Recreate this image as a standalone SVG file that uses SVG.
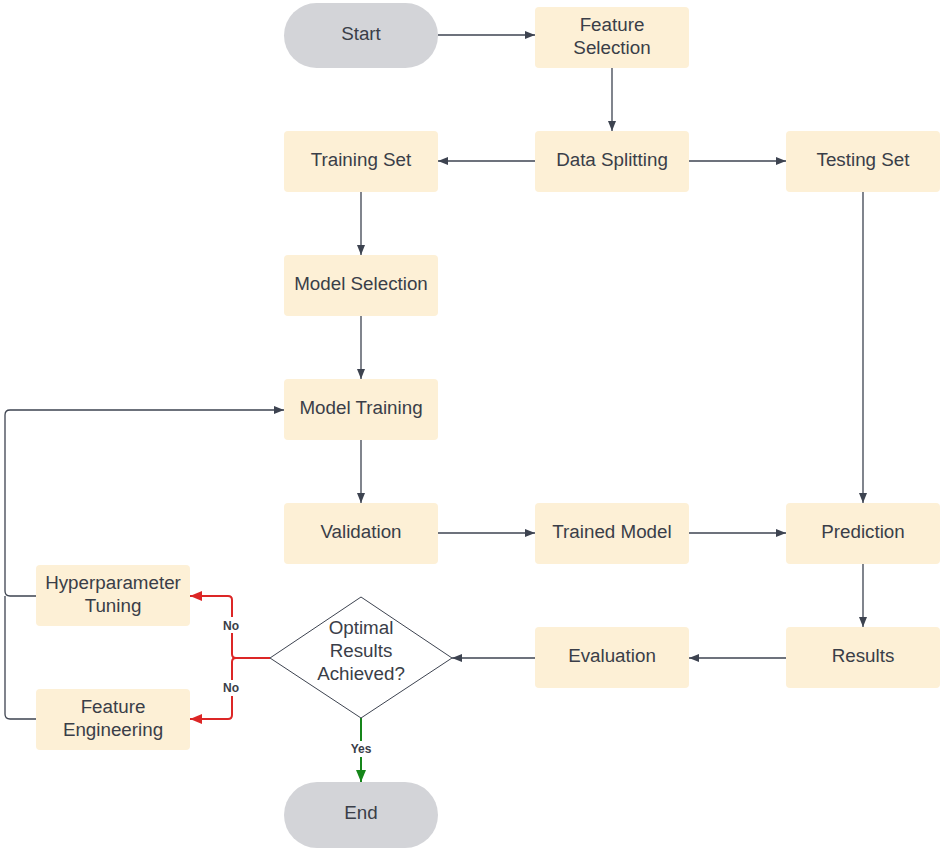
<svg xmlns="http://www.w3.org/2000/svg" width="943" height="850" viewBox="0 0 943 850">
<defs>
<style>
.box{fill:#fdf0d6;}
.pill{fill:#d3d4d8;}
.t{font-family:"Liberation Sans",Arial,sans-serif;font-size:18.8px;fill:#3a3e48;text-anchor:middle;}
.lbl{font-family:"Liberation Sans",Arial,sans-serif;font-size:12px;font-weight:bold;fill:#3a3e48;text-anchor:middle;}
.c{fill:none;stroke:#3d4350;stroke-width:1.3;}
.r{fill:none;stroke:#dc2626;stroke-width:2;}
.g{fill:none;stroke:#16861a;stroke-width:2;}
</style>
<marker id="ah" markerWidth="10" markerHeight="8" refX="10" refY="4" orient="auto" markerUnits="userSpaceOnUse"><path d="M0,0 L10,4 L0,8 z" fill="#3d4350"/></marker>
<marker id="ar" markerWidth="12" markerHeight="10" refX="12" refY="5" orient="auto" markerUnits="userSpaceOnUse"><path d="M0,0 L12,5 L0,10 z" fill="#dc2626"/></marker>
<marker id="ag" markerWidth="10" markerHeight="12" refX="12" refY="5" orient="auto" markerUnits="userSpaceOnUse"><path d="M0,0 L12,5 L0,10 z" fill="#16861a"/></marker>
</defs>
<rect width="943" height="850" fill="#ffffff"/>
<g id="connectors">
<path class="c" d="M438,35 H535" marker-end="url(#ah)"/>
<path class="c" d="M612,68 V131" marker-end="url(#ah)"/>
<path class="c" d="M535,161 H438" marker-end="url(#ah)"/>
<path class="c" d="M689,161 H786" marker-end="url(#ah)"/>
<path class="c" d="M361,192 V255" marker-end="url(#ah)"/>
<path class="c" d="M361,316 V379" marker-end="url(#ah)"/>
<path class="c" d="M361,440 V503" marker-end="url(#ah)"/>
<path class="c" d="M438,533 H535" marker-end="url(#ah)"/>
<path class="c" d="M689,533 H786" marker-end="url(#ah)"/>
<path class="c" d="M863,192 V503" marker-end="url(#ah)"/>
<path class="c" d="M863,564 V627" marker-end="url(#ah)"/>
<path class="c" d="M786,658 H689" marker-end="url(#ah)"/>
<path class="c" d="M535,658 H452" marker-end="url(#ah)"/>
<path class="c" d="M36,596 H10 Q5,596 5,591 V415 Q5,410 10,410 H284" marker-end="url(#ah)"/>
<path class="c" d="M36,719 H10 Q5,719 5,714 V596"/>
<path class="r" d="M270,658 H236 Q232,658 232,654 V600 Q232,596 228,596 H190" marker-end="url(#ar)"/>
<path class="r" d="M236,658 Q232,658 232,662 V715 Q232,719 228,719 H190" marker-end="url(#ar)"/>
<path class="g" d="M361,718 V782" marker-end="url(#ag)"/>
<rect x="222" y="617" width="20" height="16" fill="#ffffff"/>
<text class="lbl" x="231" y="630">No</text>
<rect x="222" y="680" width="20" height="16" fill="#ffffff"/>
<text class="lbl" x="231" y="692">No</text>
<rect x="346" y="741" width="30" height="16" fill="#ffffff"/>
<text class="lbl" x="361" y="753">Yes</text>
</g>
<g id="start"><rect class="pill" x="284" y="3" width="154" height="65" rx="32.5"/><text class="t" x="361" y="40">Start</text></g>
<g id="feature-selection"><rect class="box" x="535" y="7" width="154" height="61" rx="4"/><text class="t" x="612" y="31">Feature</text><text class="t" x="612" y="54">Selection</text></g>
<g id="training-set"><rect class="box" x="284" y="131" width="154" height="61" rx="4"/><text class="t" x="361" y="166">Training Set</text></g>
<g id="data-splitting"><rect class="box" x="535" y="131" width="154" height="61" rx="4"/><text class="t" x="612" y="166">Data Splitting</text></g>
<g id="testing-set"><rect class="box" x="786" y="131" width="154" height="61" rx="4"/><text class="t" x="863" y="166">Testing Set</text></g>
<g id="model-selection"><rect class="box" x="284" y="255" width="154" height="61" rx="4"/><text class="t" x="361" y="290">Model Selection</text></g>
<g id="model-training"><rect class="box" x="284" y="379" width="154" height="61" rx="4"/><text class="t" x="361" y="414">Model Training</text></g>
<g id="validation"><rect class="box" x="284" y="503" width="154" height="61" rx="4"/><text class="t" x="361" y="538">Validation</text></g>
<g id="trained-model"><rect class="box" x="535" y="503" width="154" height="61" rx="4"/><text class="t" x="612" y="538">Trained Model</text></g>
<g id="prediction"><rect class="box" x="786" y="503" width="154" height="61" rx="4"/><text class="t" x="863" y="538">Prediction</text></g>
<g id="results"><rect class="box" x="786" y="627" width="154" height="61" rx="4"/><text class="t" x="863" y="662">Results</text></g>
<g id="evaluation"><rect class="box" x="535" y="627" width="154" height="61" rx="4"/><text class="t" x="612" y="662">Evaluation</text></g>
<g id="decision"><path d="M361,597 L452,658 L361,718 L270,658 Z" fill="#ffffff" stroke="#3d4350" stroke-width="1"/><text class="t" x="361" y="634">Optimal</text><text class="t" x="361" y="657">Results</text><text class="t" x="361" y="680">Achieved?</text></g>
<g id="hyperparameter-tuning"><rect class="box" x="36" y="565" width="154" height="61" rx="4"/><text class="t" x="113" y="589">Hyperparameter</text><text class="t" x="113" y="612">Tuning</text></g>
<g id="feature-engineering"><rect class="box" x="36" y="689" width="154" height="61" rx="4"/><text class="t" x="113" y="713">Feature</text><text class="t" x="113" y="736">Engineering</text></g>
<g id="end"><rect class="pill" x="284" y="782" width="154" height="66" rx="33"/><text class="t" x="361" y="819">End</text></g>
</svg>
